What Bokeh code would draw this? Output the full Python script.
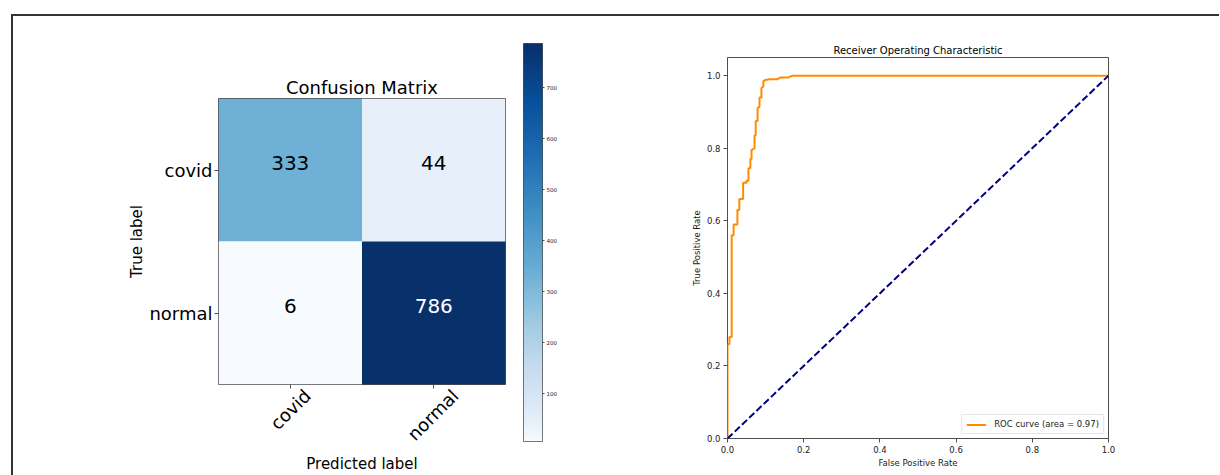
import math
import numpy as np
from bokeh.plotting import figure
from bokeh.models import (ColumnDataSource, FixedTicker, Legend, LegendItem, LinearAxis,
                          LinearColorMapper, PrintfTickFormatter)
from bokeh.layouts import row, column
from bokeh.palettes import Blues256
from bokeh.transform import linear_cmap
from bokeh.core.properties import value
from bokeh.embed import file_html
from bokeh.resources import INLINE

# ---------------- data ----------------
classes = ["covid", "normal"]
true_labels = ["covid", "covid", "normal", "normal"]
pred_labels = ["covid", "normal", "covid", "normal"]
counts = [333, 44, 6, 786]

cbar_ticks = [100, 200, 300, 400, 500, 600, 700]

fpr = [0.0, 0.0, 0.005, 0.005, 0.011, 0.011, 0.016, 0.016, 0.026, 0.026,
       0.031, 0.031, 0.041, 0.041, 0.050, 0.050, 0.055, 0.055, 0.060, 0.060,
       0.063, 0.063, 0.071, 0.071, 0.074, 0.074, 0.079, 0.079, 0.084, 0.084,
       0.089, 0.089, 0.094, 0.094, 0.100, 0.110, 0.130, 0.140, 0.160, 0.170, 1.0]
tpr = [0.0, 0.26, 0.26, 0.28, 0.28, 0.56, 0.56, 0.59, 0.59, 0.63,
       0.63, 0.66, 0.66, 0.705, 0.705, 0.71, 0.71, 0.745, 0.745, 0.77,
       0.77, 0.795, 0.80, 0.835, 0.835, 0.875, 0.875, 0.91, 0.915, 0.94,
       0.94, 0.965, 0.97, 0.985, 0.988, 0.99, 0.99, 0.995, 0.995, 1.0, 1.0]
chance_x = [0.0, 1.0]
chance_y = [0.0, 1.0]
roc_label = "ROC curve (area = 0.97)"
roc_ticks = [0.0, 0.2, 0.4, 0.6, 0.8, 1.0]

FONT = "DejaVu Sans"
TXT = "#1a1a1a"
SPINE = "#4d4d4d"
base = list(reversed(Blues256))
palette = [base[int(round(((i / 255) ** 0.82) * 255))] for i in range(256)]
lo, hi = min(counts), max(counts)
H = 459
n = len(classes)

# ---------------- confusion matrix (column = predicted, row = true) ----------------
col_pos = {c: i + 0.5 for i, c in enumerate(classes)}          # left -> right
row_pos = {c: n - i - 0.5 for i, c in enumerate(classes)}      # top -> bottom
src = ColumnDataSource(dict(
    x=[col_pos[p] for p in pred_labels], y=[row_pos[t] for t in true_labels], v=counts,
    lbl=[str(c) for c in counts],
    tc=["white" if c > hi / 2 else "black" for c in counts],
))

p1 = figure(width=502, height=H, x_range=(0, n), y_range=(0, n),
            output_backend="svg", toolbar_location=None, title="Confusion Matrix",
            x_axis_location=None,
            min_border_left=205, min_border_right=10, min_border_top=82, min_border_bottom=90)
p1.rect(x="x", y="y", width=1, height=1, source=src,
        fill_color=linear_cmap("v", palette, lo, hi), line_color=None)
p1.text(x="x", y="y", text="lbl", text_color="tc", source=src,
        text_align="center", text_baseline="middle", text_font_size="20px",
        text_font=value(FONT), y_offset=-7)
p1.grid.visible = False
p1.outline_line_color = SPINE
p1.title.align = "center"
p1.title.text_font = FONT
p1.title.text_font_size = "18px"
p1.title.text_font_style = "normal"
p1.title.text_color = "black"
p1.title.standoff = 1

p1.yaxis.ticker = FixedTicker(ticks=[row_pos[c] for c in classes])
p1.yaxis.major_label_overrides = {row_pos[c]: c for c in classes}
p1.yaxis.axis_label = "True label"
p1.yaxis.major_label_text_font = FONT
p1.yaxis.major_label_text_font_size = "18px"
p1.yaxis.major_label_text_color = "black"
p1.yaxis.axis_label_text_font = FONT
p1.yaxis.axis_label_text_font_size = "15px"
p1.yaxis.axis_label_text_font_style = "normal"
p1.yaxis.axis_label_text_color = "black"
p1.yaxis.axis_line_color = None
p1.yaxis.major_tick_line_color = SPINE
p1.yaxis.major_tick_out = 4
p1.yaxis.major_tick_in = 0
p1.yaxis.minor_tick_line_color = None
p1.yaxis.major_label_standoff = 2
p1.yaxis.axis_label_standoff = 0

# x axis: ticks (as minor ticks) at the cell centres, 45-degree labels centred under them
lab_pos = [0.62, 1.65]
lab_axis = LinearAxis(ticker=FixedTicker(ticks=lab_pos,
                                         minor_ticks=[col_pos[c] for c in classes]),
                      major_label_overrides={pos: c for pos, c in zip(lab_pos, classes)},
                      major_label_orientation=math.pi / 4,
                      major_label_text_font=FONT, major_label_text_font_size="18px",
                      major_label_text_color="black", major_label_standoff=4,
                      major_tick_out=0, major_tick_in=0, major_tick_line_color=None,
                      minor_tick_out=4, minor_tick_in=0, minor_tick_line_color=SPINE,
                      axis_line_color=None,
                      axis_label="Predicted label", axis_label_text_font=FONT,
                      axis_label_text_font_size="15px", axis_label_text_font_style="normal",
                      axis_label_text_color="black", axis_label_standoff=0)
p1.add_layout(lab_axis, "below")

# ---------------- colour bar ----------------
mapper = LinearColorMapper(palette=palette, low=lo, high=hi)
p2 = figure(width=85, height=H, x_range=(0, 1), y_range=(lo, hi),
            output_backend="svg", toolbar_location=None,
            x_axis_location=None, y_axis_location="right",
            min_border_left=8, min_border_right=58, min_border_top=27, min_border_bottom=34)
grad = np.linspace(lo, hi, 256).reshape(-1, 1)
p2.image(image=[grad], x=0, y=lo, dw=1, dh=hi - lo, color_mapper=mapper)
p2.grid.visible = False
p2.outline_line_color = SPINE
p2.yaxis.ticker = FixedTicker(ticks=cbar_ticks)
p2.yaxis.major_label_text_font = FONT
p2.yaxis.major_label_text_font_size = "5.5px"
p2.yaxis.major_label_text_color = TXT
p2.yaxis.axis_line_color = None
p2.yaxis.major_tick_line_color = SPINE
p2.yaxis.major_tick_out = 2
p2.yaxis.major_tick_in = 0
p2.yaxis.minor_tick_line_color = None
p2.yaxis.major_label_standoff = 2

# ---------------- ROC ----------------
p3 = figure(width=619, height=H, x_range=(0, 1), y_range=(0, 1.05),
            output_backend="svg", toolbar_location=None,
            title="Receiver Operating Characteristic",
            min_border_left=127, min_border_right=111, min_border_top=41, min_border_bottom=37)
r_roc = p3.line(fpr, tpr, line_color="#ff8c00", line_width=2)
p3.line(chance_x, chance_y, line_color="navy", line_width=2, line_dash="7 3")
p3.grid.visible = False
p3.outline_line_color = SPINE
p3.title.align = "center"
p3.title.text_font = FONT
p3.title.text_font_size = "10px"
p3.title.text_font_style = "normal"
p3.title.text_color = "black"
p3.title.standoff = 3
for ax in (p3.xaxis, p3.yaxis):
    ax.ticker = FixedTicker(ticks=roc_ticks)
    ax.formatter = PrintfTickFormatter(format="%.1f")
    ax.major_label_text_font = FONT
    ax.major_label_text_font_size = "8.5px"
    ax.major_label_text_color = TXT
    ax.axis_label_text_font = FONT
    ax.axis_label_text_font_size = "8.5px"
    ax.axis_label_text_font_style = "normal"
    ax.axis_label_text_color = TXT
    ax.axis_line_color = None
    ax.major_tick_line_color = SPINE
    ax.major_tick_out = 4
    ax.major_tick_in = 0
    ax.minor_tick_line_color = None
    ax.major_label_standoff = 3
    ax.axis_label_standoff = 2
p3.xaxis.axis_label = "False Positive Rate"
p3.yaxis.axis_label = "True Positive Rate"

legend = Legend(items=[LegendItem(label=roc_label, renderers=[r_roc])],
                location="bottom_right")
legend.label_text_font = FONT
legend.label_text_font_size = "8.5px"
legend.label_text_color = TXT
legend.border_line_color = "#cccccc"
legend.background_fill_alpha = 0.8
legend.margin = 4
legend.padding = 4
legend.glyph_width = 20
legend.glyph_height = 9
legend.label_height = 9
legend.label_standoff = 8
legend.spacing = 0
p3.add_layout(legend)

layout = row(p1, column(p2), column(p3), margin=(14, 0, -8, 11),
             styles={"border-top": "2px solid #333333", "border-left": "2px solid #333333"})

open("out.html", "w").write(file_html(layout, INLINE))
